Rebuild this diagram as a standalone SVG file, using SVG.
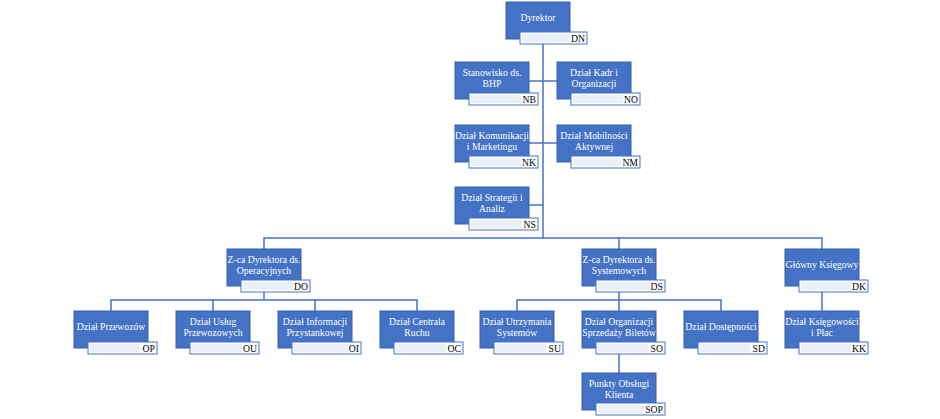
<svg xmlns="http://www.w3.org/2000/svg" width="940" height="419" viewBox="0 0 940 419">
<style>
.box{fill:#4472C4;stroke:#3561AD;stroke-width:1}
.lab{fill:#FFFFFF;stroke:#4472C4;stroke-width:1}
.band{fill:#EAEFF8}
.t{font-family:"Liberation Serif","Times New Roman",serif;font-size:9.7px;fill:#FFFFFF;text-anchor:middle}
.c{font-family:"Liberation Serif","Times New Roman",serif;font-size:9.7px;fill:#000000;text-anchor:end}
.con{stroke:#4472C4;stroke-width:1.5;fill:none}
</style>
<rect width="940" height="419" fill="#FFFFFF"/>
<g id="connectors">
<path class="con" d="M543,44 V238"/>
<path class="con" d="M529,81 H557"/>
<path class="con" d="M529,143 H557"/>
<path class="con" d="M529,205 H543"/>
<path class="con" d="M264,249 V238 H822 V249"/>
<path class="con" d="M619,238 V249"/>
<path class="con" d="M264,291 V300"/>
<path class="con" d="M111,311 V300 H417 V311"/>
<path class="con" d="M213,300 V311"/>
<path class="con" d="M315,300 V311"/>
<path class="con" d="M619,292 V300"/>
<path class="con" d="M517,311 V300 H721 V311"/>
<path class="con" d="M619,300 V311"/>
<path class="con" d="M619,353 V373"/>
<path class="con" d="M822,292 V311"/>
</g>
<g id="DN">
<rect class="box" x="506" y="2" width="64" height="37"/>
<rect class="lab" x="520" y="32" width="67" height="12"/>
<rect class="band" x="522" y="34" width="48" height="8"/>
<text class="t" x="538" y="21">Dyrektor</text>
<text class="c" x="585" y="42">DN</text>
</g>
<g id="NB">
<rect class="box" x="455" y="62" width="74" height="37"/>
<rect class="lab" x="469" y="93" width="69" height="12"/>
<rect class="band" x="471" y="95" width="50" height="8"/>
<text class="t" x="492" y="76">Stanowisko ds.</text>
<text class="t" x="492" y="87">BHP</text>
<text class="c" x="536" y="103">NB</text>
</g>
<g id="NO">
<rect class="box" x="557" y="62" width="74" height="37"/>
<rect class="lab" x="571" y="93" width="69" height="12"/>
<rect class="band" x="573" y="95" width="50" height="8"/>
<text class="t" x="594" y="76">Dział Kadr i</text>
<text class="t" x="594" y="87">Organizacji</text>
<text class="c" x="638" y="103">NO</text>
</g>
<g id="NK">
<rect class="box" x="455" y="125" width="74" height="37"/>
<rect class="lab" x="469" y="156" width="69" height="12"/>
<rect class="band" x="471" y="158" width="50" height="8"/>
<text class="t" x="492" y="139">Dział Komunikacji</text>
<text class="t" x="492" y="150">i Marketingu</text>
<text class="c" x="536" y="166">NK</text>
</g>
<g id="NM">
<rect class="box" x="557" y="125" width="74" height="37"/>
<rect class="lab" x="571" y="156" width="69" height="12"/>
<rect class="band" x="573" y="158" width="48" height="8"/>
<text class="t" x="594" y="139">Dział Mobilności</text>
<text class="t" x="594" y="150">Aktywnej</text>
<text class="c" x="638" y="166">NM</text>
</g>
<g id="NS">
<rect class="box" x="455" y="187" width="74" height="37"/>
<rect class="lab" x="469" y="218" width="69" height="12"/>
<rect class="band" x="471" y="220" width="50" height="8"/>
<text class="t" x="492" y="201">Dział Strategii i</text>
<text class="t" x="492" y="212">Analiz</text>
<text class="c" x="536" y="228">NS</text>
</g>
<g id="DO">
<rect class="box" x="227" y="249" width="74" height="37"/>
<rect class="lab" x="241" y="280" width="69" height="12"/>
<rect class="band" x="243" y="282" width="50" height="8"/>
<text class="t" x="264" y="263">Z-ca Dyrektora ds.</text>
<text class="t" x="264" y="274">Operacyjnych</text>
<text class="c" x="308" y="290">DO</text>
</g>
<g id="DS">
<rect class="box" x="582" y="249" width="74" height="37"/>
<rect class="lab" x="596" y="280" width="69" height="12"/>
<rect class="band" x="598" y="282" width="52" height="8"/>
<text class="t" x="619" y="263">Z-ca Dyrektora ds.</text>
<text class="t" x="619" y="274">Systemowych</text>
<text class="c" x="663" y="290">DS</text>
</g>
<g id="DK">
<rect class="box" x="785" y="249" width="74" height="37"/>
<rect class="lab" x="799" y="280" width="69" height="12"/>
<rect class="band" x="801" y="282" width="50" height="8"/>
<text class="t" x="822" y="268">Główny Księgowy</text>
<text class="c" x="866" y="290">DK</text>
</g>
<g id="OP">
<rect class="box" x="74" y="311" width="74" height="37"/>
<rect class="lab" x="88" y="342" width="69" height="12"/>
<rect class="band" x="90" y="344" width="50" height="8"/>
<text class="t" x="111" y="330">Dział Przewozów</text>
<text class="c" x="155" y="352">OP</text>
</g>
<g id="OU">
<rect class="box" x="176" y="311" width="74" height="37"/>
<rect class="lab" x="190" y="342" width="69" height="12"/>
<rect class="band" x="192" y="344" width="50" height="8"/>
<text class="t" x="213" y="325">Dział Usług</text>
<text class="t" x="213" y="336">Przewozowych</text>
<text class="c" x="257" y="352">OU</text>
</g>
<g id="OI">
<rect class="box" x="278" y="311" width="74" height="37"/>
<rect class="lab" x="292" y="342" width="69" height="12"/>
<rect class="band" x="294" y="344" width="54" height="8"/>
<text class="t" x="315" y="325">Dział Informacji</text>
<text class="t" x="315" y="336">Przystankowej</text>
<text class="c" x="359" y="352">OI</text>
</g>
<g id="OC">
<rect class="box" x="380" y="311" width="74" height="37"/>
<rect class="lab" x="394" y="342" width="69" height="12"/>
<rect class="band" x="396" y="344" width="50" height="8"/>
<text class="t" x="417" y="325">Dział Centrala</text>
<text class="t" x="417" y="336">Ruchu</text>
<text class="c" x="461" y="352">OC</text>
</g>
<g id="SU">
<rect class="box" x="480" y="311" width="74" height="37"/>
<rect class="lab" x="494" y="342" width="69" height="12"/>
<rect class="band" x="496" y="344" width="50" height="8"/>
<text class="t" x="517" y="325">Dział Utrzymania</text>
<text class="t" x="517" y="336">Systemów</text>
<text class="c" x="561" y="352">SU</text>
</g>
<g id="SO">
<rect class="box" x="582" y="311" width="74" height="37"/>
<rect class="lab" x="596" y="342" width="69" height="12"/>
<rect class="band" x="598" y="344" width="50" height="8"/>
<text class="t" x="619" y="325">Dział Organizacji</text>
<text class="t" x="619" y="336">Sprzedaży Biletów</text>
<text class="c" x="663" y="352">SO</text>
</g>
<g id="SD">
<rect class="box" x="684" y="311" width="74" height="37"/>
<rect class="lab" x="698" y="342" width="69" height="12"/>
<rect class="band" x="700" y="344" width="50" height="8"/>
<text class="t" x="721" y="330">Dział Dostępności</text>
<text class="c" x="765" y="352">SD</text>
</g>
<g id="KK">
<rect class="box" x="785" y="311" width="74" height="37"/>
<rect class="lab" x="799" y="342" width="69" height="12"/>
<rect class="band" x="801" y="344" width="50" height="8"/>
<text class="t" x="822" y="325">Dział Księgowości</text>
<text class="t" x="822" y="336">i Płac</text>
<text class="c" x="866" y="352">KK</text>
</g>
<g id="SOP">
<rect class="box" x="582" y="373" width="74" height="37"/>
<rect class="lab" x="596" y="403" width="69" height="12"/>
<rect class="band" x="598" y="405" width="46" height="8"/>
<text class="t" x="619" y="387">Punkty Obsługi</text>
<text class="t" x="619" y="398">Klienta</text>
<text class="c" x="663" y="413">SOP</text>
</g>
</svg>
